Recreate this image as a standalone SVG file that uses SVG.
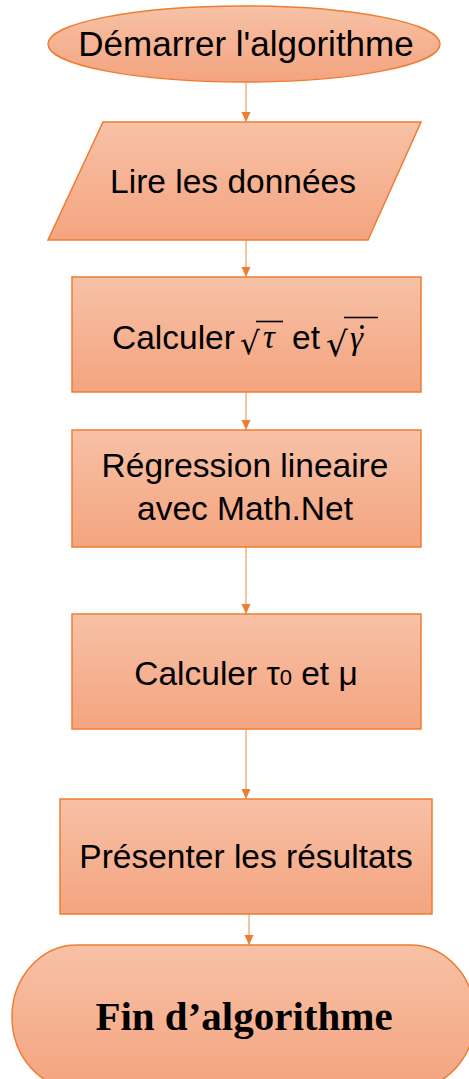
<svg xmlns="http://www.w3.org/2000/svg" width="469" height="1079" viewBox="0 0 469 1079">
<style>
.shape{fill:url(#g);stroke:#ED7D31;stroke-width:1.5}
.t{font-family:"Liberation Sans",Arial,sans-serif;font-size:33.5px;fill:#000;text-anchor:middle}
.m{font-family:"Liberation Serif","DejaVu Serif",serif;font-style:italic;font-size:33px;fill:#000}
.r{font-family:"DejaVu Serif","Liberation Serif",serif;fill:#000}
.c{stroke:#F4B183;stroke-width:1.5;fill:none;marker-end:url(#a)}
</style>
<defs>
<linearGradient id="g" x1="0" y1="0" x2="0" y2="1">
<stop offset="0" stop-color="#F7C1A6"/>
<stop offset="1" stop-color="#F4A47F"/>
</linearGradient>
<marker id="a" markerUnits="userSpaceOnUse" markerWidth="11" markerHeight="10" refX="10" refY="4.5" orient="auto">
<path d="M0,0 L10,4.5 L0,9 z" fill="#ED7D31"/>
</marker>
</defs>
<g id="connectors">
<line class="c" x1="246" y1="83" x2="246" y2="122"/>
<line class="c" x1="246" y1="240" x2="246" y2="277"/>
<line class="c" x1="246" y1="392" x2="246" y2="430"/>
<line class="c" x1="246" y1="547" x2="246" y2="614"/>
<line class="c" x1="246" y1="729" x2="246" y2="799"/>
<line class="c" x1="249" y1="914" x2="249" y2="945"/>
</g>
<g id="start">
<ellipse class="shape" cx="244" cy="44" rx="196" ry="38"/>
<text class="t" x="246" y="56" style="font-size:35px">Démarrer l'algorithme</text>
</g>
<g id="read">
<polygon class="shape" points="103,122 421,122 368,240 48,240"/>
<text class="t" x="233" y="193">Lire les données</text>
</g>
<g id="calc-sqrt">
<rect class="shape" x="72" y="277" width="349" height="115"/>
<text class="t" x="112" y="349" style="text-anchor:start">Calculer</text>
<text class="r" x="240" y="354" style="font-size:31px">√</text>
<line x1="256" y1="321.5" x2="283" y2="321.5" stroke="#000" stroke-width="1.6"/>
<text class="m" x="263" y="348">τ</text>
<text class="t" x="292" y="349" style="text-anchor:start">et</text>
<text class="r" x="326" y="356" style="font-size:34px">√</text>
<line x1="344" y1="317.5" x2="378" y2="317.5" stroke="#000" stroke-width="1.6"/>
<text class="m" x="350" y="349">γ</text>
<circle cx="362" cy="327" r="1.9" fill="#000"/>
</g>
<g id="regression">
<rect class="shape" x="72" y="430" width="349" height="117"/>
<text class="t" x="245" y="477">Régression lineaire</text>
<text class="t" x="245" y="520">avec Math.Net</text>
</g>
<g id="calc-tau">
<rect class="shape" x="72" y="614" width="349" height="115"/>
<text class="t" x="246" y="685">Calculer τ<tspan font-size="22">0</tspan> et μ</text>
</g>
<g id="present">
<rect class="shape" x="60" y="799" width="372" height="115"/>
<text class="t" x="246" y="868">Présenter les résultats</text>
</g>
<g id="end">
<rect class="shape" x="12" y="945" width="463" height="144" rx="65" ry="72"/>
<text x="244" y="1030" style="font-family:'Liberation Serif','Times New Roman',serif;font-weight:bold;font-size:41px;text-anchor:middle;fill:#000">Fin d’algorithme</text>
</g>
</svg>
